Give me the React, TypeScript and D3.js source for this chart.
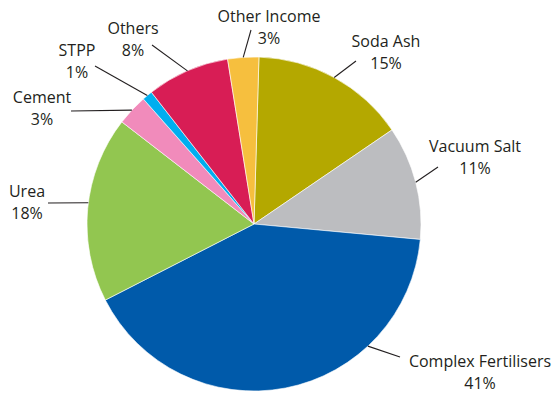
import React from "react";
import * as d3 from "d3";

const categories = ["Soda Ash", "Vacuum Salt", "Complex Fertilisers", "Urea", "Cement", "STPP", "Others", "Other Income"];
const values = [15, 11, 41, 18, 3, 1, 8, 3];
const colors = ["#b4a800", "#bcbdc0", "#005aaa", "#92c650", "#f18bbb", "#00aeef", "#d81d55", "#f6bf3e"];

// annotation layout (label anchor + leader line end; leader start on the arc)
const labelLayout: Record<string, { tx: number; ty: number; lx: number; ly: number; angleDeg?: number }> = {
  "Soda Ash": { tx: 386, ty: 47, lx: 356, ly: 61 },
  "Vacuum Salt": { tx: 475, ty: 152, lx: 438, ly: 167 },
  "Complex Fertilisers": { tx: 480, ty: 367, lx: 400, ly: 357, angleDeg: 137 },
  "Urea": { tx: 27, ty: 197, lx: 48, ly: 203, angleDeg: 277.3 },
  "Cement": { tx: 42, ty: 103, lx: 71, ly: 111, angleDeg: 313 },
  "STPP": { tx: 77, ty: 56, lx: 95, ly: 66 },
  "Others": { tx: 133, ty: 34, lx: 152, ly: 45 },
  "Other Income": { tx: 269, ty: 22, lx: 251, ly: 30 },
};

const W = 558, H = 394;
const cx = 254, cy = 224, R = 167;
const startOffset = (1.7 * Math.PI) / 180;

export default function App() {
  const data = categories.map((c, i) => ({ name: c, value: values[i], color: colors[i] }));
  const pie = d3.pie<any>().value((d) => d.value).sort(null)
    .startAngle(startOffset).endAngle(startOffset + 2 * Math.PI);
  const arcs = pie(data);
  const arc = d3.arc<any>().innerRadius(0).outerRadius(R);
  const total = d3.sum(values);

  return (
    <svg width={W} height={H} style={{ position: "absolute", left: 0, top: 0 }}
      fontFamily="'Open Sans', 'DejaVu Sans', sans-serif">
      <g transform={`translate(${cx},${cy})`}>
        {arcs.map((a, i) => (
          <path key={i} d={arc(a) as string} fill={a.data.color} stroke="#ffffff" strokeWidth={0.6} />
        ))}
      </g>
      {arcs.map((a, i) => {
        const lay = labelLayout[a.data.name];
        const ang = lay.angleDeg !== undefined ? (lay.angleDeg * Math.PI) / 180 : (a.startAngle + a.endAngle) / 2;
        const sx = cx + R * Math.sin(ang);
        const sy = cy - R * Math.cos(ang);
        const pct = Math.round((a.data.value / total) * 100) + "%";
        return (
          <g key={"l" + i}>
            <line x1={sx} y1={sy} x2={lay.lx} y2={lay.ly} stroke="#231f20" strokeWidth={1.1} />
            <text x={lay.tx} y={lay.ty} textAnchor="middle" fontSize={16} fill="#231f20">{a.data.name}</text>
            <text x={lay.tx} y={lay.ty + 22} textAnchor="middle" fontSize={16} fill="#231f20">{pct}</text>
          </g>
        );
      })}
    </svg>
  );
}
